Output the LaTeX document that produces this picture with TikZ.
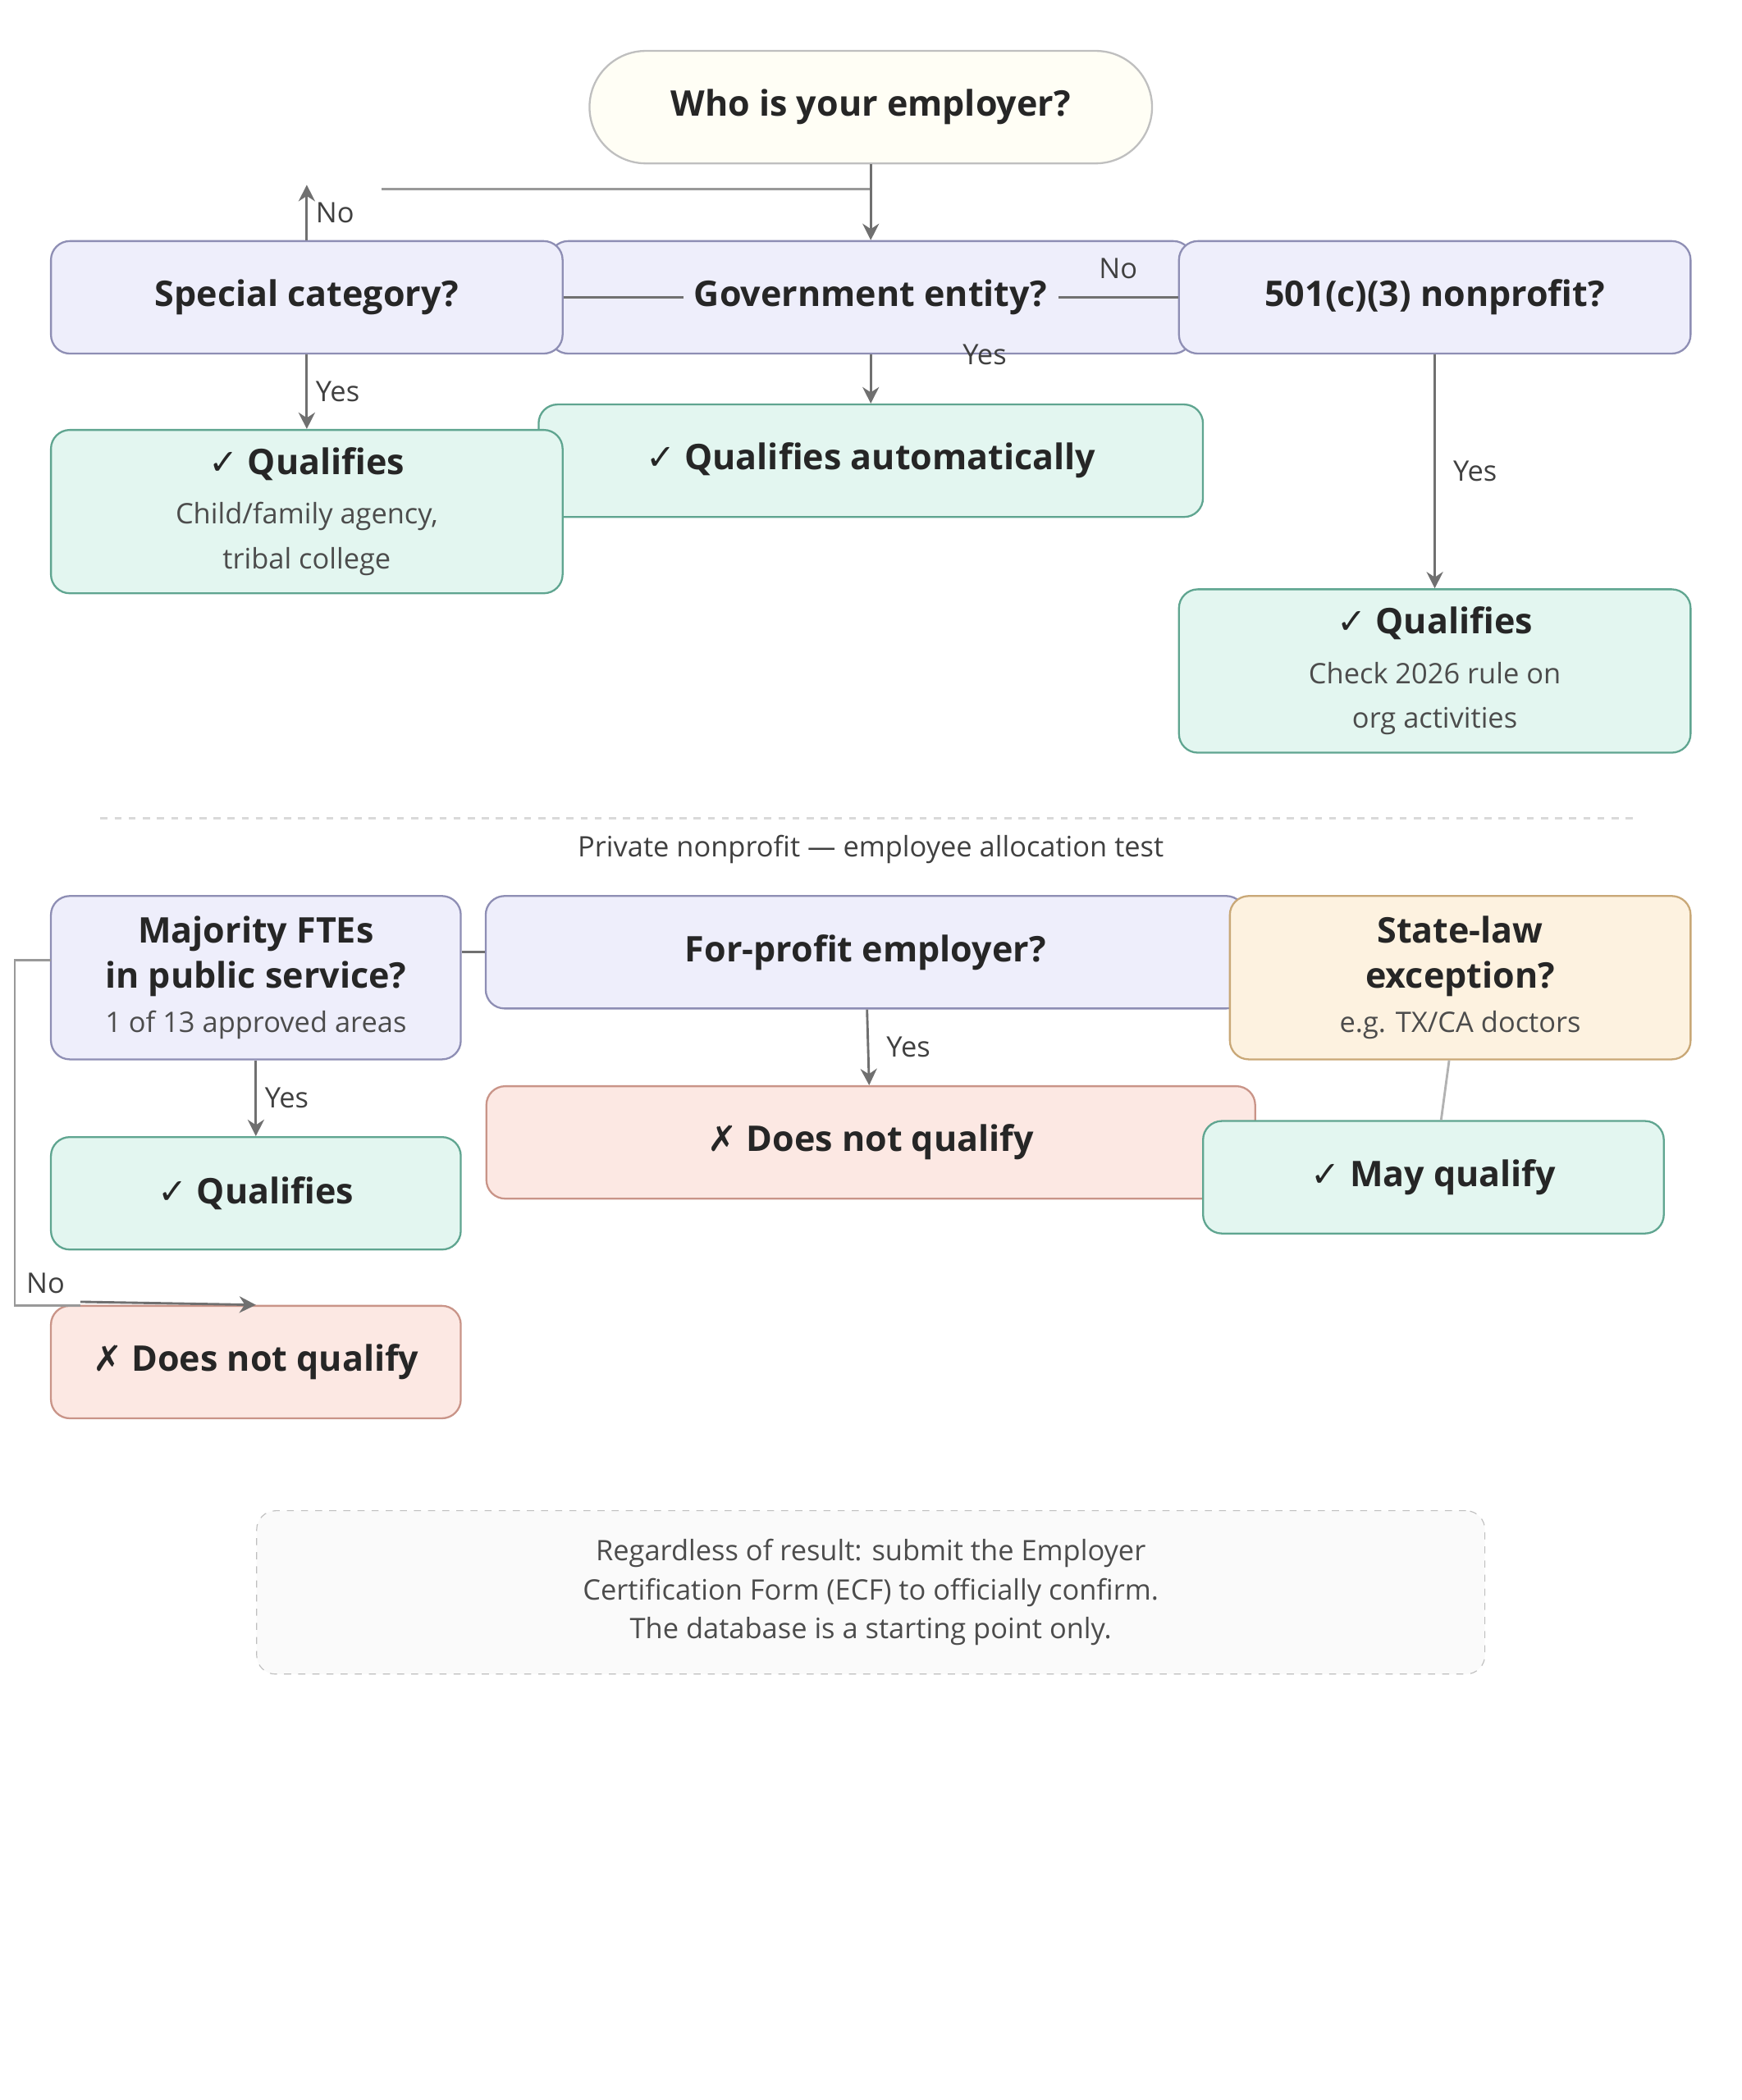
\documentclass[tikz,border=0pt]{standalone}
\usepackage{fontspec}
\setmainfont{Open Sans}
\newfontfamily\symfont{DejaVu Sans}
\usetikzlibrary{arrows.meta}
\newcommand{\ok}{{\symfont\char"2713}}
\newcommand{\xmark}{{\symfont\char"2717}}
\newcommand{\subt}[1]{{\fontsize{12}{15}\selectfont\color{black!70}#1}}
\definecolor{qfill}{HTML}{EEEEFB}
\definecolor{qline}{HTML}{8E8EB4}
\definecolor{gfill}{HTML}{E3F6F0}
\definecolor{gline}{HTML}{5FA590}
\definecolor{rfill}{HTML}{FCE8E3}
\definecolor{rline}{HTML}{C99488}
\definecolor{ofill}{HTML}{FDF2E0}
\definecolor{oline}{HTML}{C9A877}
\definecolor{edge}{HTML}{707070}
\tikzset{
  box/.style={draw, rounded corners=8pt, line width=0.8pt, align=center,
    font=\fontsize{15}{19}\selectfont, text=black!85, inner sep=2pt},
  ask/.style={box, fill=qfill, draw=qline},
  yes/.style={box, fill=gfill, draw=gline},
  nope/.style={box, fill=rfill, draw=rline},
  maybe/.style={box, fill=ofill, draw=oline},
  lab/.style={font=\fontsize{12}{14}\selectfont, text=black!75},
  line/.style={draw=edge, line width=1pt},
  arr/.style={line, -{Stealth[length=7pt,width=7pt]}},
}
\begin{document}
\begin{tikzpicture}[x=0.02cm, y=-0.02cm]
\useasboundingbox (0,0) rectangle (1300,1568);

% top questions
\node[ask, minimum width=9.6cm, minimum height=1.68cm] (gov) at (650,222) {\textbf{Government entity?}};
\node[box, fill=black!3!yellow!4, draw=black!25, rounded corners=0.84cm,
  minimum width=8.4cm, minimum height=1.68cm] (start) at (650,80) {\textbf{Who is your employer?}};
\node[ask, minimum width=7.64cm, minimum height=1.68cm] (special) at (229,222) {\textbf{Special category?}};
\node[ask, minimum width=7.64cm, minimum height=1.68cm] (npo) at (1071,222) {\textbf{501(c)(3) nonprofit?}};

% top results
\node[yes, minimum width=9.92cm, minimum height=1.68cm] (auto) at (650,344) {\textbf{\ok\ Qualifies automatically}};
\node[yes, minimum width=7.64cm, minimum height=2.44cm] (qleft) at (229,382)
  {\textbf{\ok\ Qualifies}\\[2pt]\subt{Child/family agency,}\\\subt{tribal college}};
\node[yes, minimum width=7.64cm, minimum height=2.44cm] (qright) at (1071,501)
  {\textbf{\ok\ Qualifies}\\[2pt]\subt{Check 2026 rule on}\\\subt{org activities}};

% separator
\coordinate (sepl) at (75,611);
\coordinate (sepr) at (1220,611);
\draw[black!15, dashed, line width=0.8pt] (sepl) -- (sepr);
\node[lab] (septext) at (650,634) {Private nonprofit — employee allocation test};

% lower questions
\node[ask, minimum width=11.34cm, minimum height=1.68cm] (forprofit) at (646,711) {\textbf{For-profit employer?}};
\node[ask, minimum width=6.12cm, minimum height=2.44cm] (fte) at (191,730)
  {\textbf{Majority FTEs}\\\textbf{in public service?}\\\subt{1 of 13 approved areas}};
\node[maybe, minimum width=6.88cm, minimum height=2.44cm] (state) at (1090,730)
  {\textbf{State-law}\\\textbf{exception?}\\\subt{e.g. TX/CA doctors}};

% lower results
\node[nope, minimum width=11.48cm, minimum height=1.68cm] (notfor) at (650,853) {\textbf{\xmark\ Does not qualify}};
\node[yes, minimum width=6.88cm, minimum height=1.68cm] (may) at (1070,879) {\textbf{\ok\ May qualify}};
\node[yes, minimum width=6.12cm, minimum height=1.68cm] (qfte) at (191,891) {\textbf{\ok\ Qualifies}};
\node[nope, minimum width=6.12cm, minimum height=1.68cm] (notfte) at (191,1017) {\textbf{\xmark\ Does not qualify}};

% note
\node[draw=black!25, dashed, fill=black!2, rounded corners=8pt, align=center,
  minimum width=18.34cm, minimum height=2.44cm, font=\fontsize{12}{16.5}\selectfont, text=black!70] (note) at (650,1189)
  {Regardless of result: submit the Employer\\Certification Form (ECF) to officially confirm.\\The database is a starting point only.};

% connectors
\coordinate (topl) at (285,141);
\coordinate (topr) at (650,141);
\coordinate (noup) at (229,138);
\draw[line, black!40] (topl) -- (topr);
\draw[arr] (start) -- (gov);
\draw[arr] (special.north) -- node[lab, right] {No} (noup);
\draw[line] (special.east) -- (510,222);
\draw[line] (790,222) -- node[lab, above, yshift=4pt] {No} (npo.west);
\node[lab] (govyes) at (735,265) {Yes};
\draw[arr] (gov) -- (auto);
\draw[arr] (special) -- node[lab, right] {Yes} (qleft);
\draw[arr] (npo) -- node[lab, right, xshift=4pt] {Yes} (qright);
\draw[line] (fte.east |- forprofit.west) -- (forprofit.west);
\draw[arr] (fte) -- node[lab, right] {Yes} (qfte);
\draw[arr] (forprofit) -- node[lab, right, xshift=4pt] {Yes} (notfor);
\draw[line, black!30] (state) -- (may);
\draw[line, black!40] (38,717) -- (11,717) -- (11,975) -- (60,975);
\node[lab] (fteno) at (34,958) {No};
\draw[arr] (60,972) -- (notfte.north);
\end{tikzpicture}
\end{document}
